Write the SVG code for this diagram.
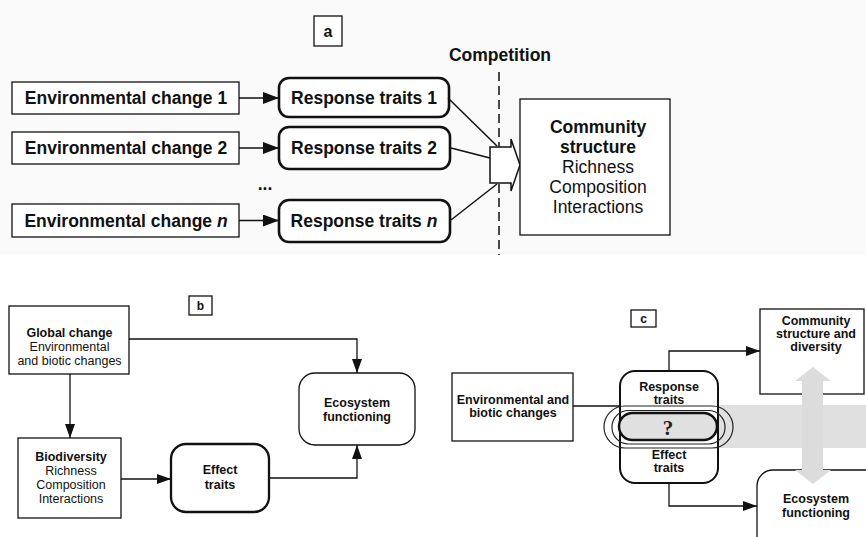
<svg xmlns="http://www.w3.org/2000/svg" width="866" height="537" viewBox="0 0 866 537">
<defs>
<style>
.t{font-family:"Liberation Sans",Arial,sans-serif;fill:#111}
.b{font-weight:bold}
.a17{font-size:17.5px}
.s12{font-size:12.5px}
.box{fill:#fff;stroke:#111;stroke-width:1.3}
.rb{fill:#fff;stroke:#111;stroke-width:2.6}
.ln{fill:none;stroke:#111;stroke-width:1.3}
.lnA{fill:none;stroke:#111;stroke-width:1.5}
.ring{fill:none;stroke:#222;stroke-width:1.2}
</style>
<marker id="ha" markerUnits="userSpaceOnUse" markerWidth="16" markerHeight="12" refX="16" refY="6" orient="auto"><path d="M0,0 L16,6 L0,12 z" fill="#111"/></marker>
<marker id="hb" markerUnits="userSpaceOnUse" markerWidth="14" markerHeight="10" refX="14" refY="5" orient="auto"><path d="M0,0 L14,5 L0,10 z" fill="#111"/></marker>
</defs>
<rect width="866" height="537" fill="#fff"/>
<rect width="866" height="254" fill="#fafafa"/>

<!-- Panel a -->
<g id="label-a"><rect x="314" y="16" width="28" height="30" class="box" stroke-width="1.5"/><text x="328" y="37" text-anchor="middle" class="t b" font-size="16">a</text></g>
<g id="competition"><text x="500" y="61" text-anchor="middle" class="t b a17">Competition</text><line x1="499" y1="72" x2="499" y2="255" stroke="#111" stroke-width="1.5" stroke-dasharray="9,5"/></g>

<g id="env1"><rect x="12" y="82" width="227" height="32" class="box" stroke-width="1.5"/><text x="126" y="104" text-anchor="middle" class="t b a17">Environmental change 1</text></g>
<g id="env2"><rect x="12" y="132" width="227" height="32" class="box" stroke-width="1.5"/><text x="126" y="154" text-anchor="middle" class="t b a17">Environmental change 2</text></g>
<g id="envn"><rect x="12" y="204" width="227" height="33" class="box" stroke-width="1.5"/><text x="126" y="227" text-anchor="middle" class="t b a17">Environmental change <tspan font-style="italic">n</tspan></text></g>

<g id="resp1"><rect x="279" y="78" width="170" height="39" rx="10" class="rb"/><text x="364" y="104" text-anchor="middle" class="t b a17">Response traits 1</text></g>
<g id="resp2"><rect x="279" y="127" width="171" height="42" rx="10" class="rb"/><text x="364" y="154" text-anchor="middle" class="t b a17">Response traits 2</text></g>
<g id="respn"><rect x="279" y="200" width="171" height="42" rx="10" class="rb"/><text x="364" y="227" text-anchor="middle" class="t b a17">Response traits <tspan font-style="italic">n</tspan></text></g>
<g id="dots"><text x="265" y="190" text-anchor="middle" class="t b a17">...</text></g>

<g id="funnel"><path d="M490,147 L511,147 L511,139 L520,165 L511,191 L511,183 L490,183 Z" fill="#fff" stroke="#111" stroke-width="1.5" stroke-linejoin="miter"/></g>

<g id="community-a"><rect x="520" y="99" width="150" height="136" class="box" stroke-width="1.5"/>
<text x="598" y="133" text-anchor="middle" class="t b a17">Community</text>
<text x="598" y="153" text-anchor="middle" class="t b a17">structure</text>
<text x="598" y="173" text-anchor="middle" class="t a17">Richness</text>
<text x="598" y="193" text-anchor="middle" class="t a17">Composition</text>
<text x="598" y="213" text-anchor="middle" class="t a17">Interactions</text></g>

<!-- Panel b -->
<g id="label-b"><rect x="189" y="296" width="23" height="19" class="box"/><text x="200.5" y="310" text-anchor="middle" class="t b" font-size="12">b</text></g>
<g id="global"><rect x="9" y="306" width="120" height="68" class="box"/>
<text x="69.5" y="337" text-anchor="middle" class="t b s12">Global change</text>
<text x="69.5" y="351" text-anchor="middle" class="t s12">Environmental</text>
<text x="69.5" y="365" text-anchor="middle" class="t s12">and biotic changes</text></g>
<g id="biodiv"><rect x="18" y="438" width="103" height="80" class="box"/>
<text x="71" y="461" text-anchor="middle" class="t b s12">Biodiversity</text>
<text x="71" y="475" text-anchor="middle" class="t s12">Richness</text>
<text x="71" y="489" text-anchor="middle" class="t s12">Composition</text>
<text x="71" y="503" text-anchor="middle" class="t s12">Interactions</text></g>
<g id="effect-b"><rect x="171" y="444" width="98" height="68" rx="15" fill="#fff" stroke="#111" stroke-width="2.3"/>
<text x="220" y="474" text-anchor="middle" class="t b s12">Effect</text>
<text x="220" y="489" text-anchor="middle" class="t b s12">traits</text></g>
<g id="eco-b"><rect x="299" y="373" width="116" height="72" rx="16" class="box"/>
<text x="357" y="407" text-anchor="middle" class="t b s12">Ecosystem</text>
<text x="357" y="421" text-anchor="middle" class="t b s12">functioning</text></g>

<!-- Panel c -->
<g id="label-c"><rect x="631" y="310" width="25" height="17" class="box"/><text x="643.5" y="323" text-anchor="middle" class="t b" font-size="12">c</text></g>
<g id="community-c"><rect x="760" y="309" width="104" height="85" class="box"/>
<text x="816" y="325" text-anchor="middle" class="t b s12">Community</text>
<text x="816" y="338" text-anchor="middle" class="t b s12">structure and</text>
<text x="816" y="351" text-anchor="middle" class="t b s12">diversity</text></g>
<g id="eco-c"><rect x="757" y="470" width="140" height="90" rx="16" class="box"/>
<text x="816" y="503" text-anchor="middle" class="t b s12">Ecosystem</text>
<text x="816" y="517" text-anchor="middle" class="t b s12">functioning</text></g>
<g id="env-c"><rect x="452" y="373" width="121" height="68" class="box"/>
<text x="513" y="404" text-anchor="middle" class="t b s12">Environmental and</text>
<text x="513" y="417" text-anchor="middle" class="t b s12">biotic changes</text></g>

<g id="band"><rect x="718" y="405" width="148" height="43" fill="#e0e0e0"/></g>
<g id="traits-c"><rect x="620" y="371" width="98" height="112" rx="15" fill="none" stroke="#111" stroke-width="2"/>
<text x="669" y="391" text-anchor="middle" class="t b s12">Response</text>
<text x="669" y="404" text-anchor="middle" class="t b s12">traits</text>
<text x="669" y="459" text-anchor="middle" class="t b s12">Effect</text>
<text x="669" y="472" text-anchor="middle" class="t b s12">traits</text></g>
<g id="rings"><rect x="604" y="406" width="129" height="42" rx="21" class="ring"/>
<rect x="612" y="410.5" width="113" height="33.5" rx="16.5" class="ring"/></g>
<g id="question"><rect x="619" y="413" width="98" height="27" rx="13.5" fill="#e0e0e0" stroke="#111" stroke-width="2.5"/>
<text x="668" y="435" text-anchor="middle" font-family="Liberation Serif,serif" font-weight="bold" font-size="21" fill="#222">?</text></g>
<g id="gray-arrow"><path d="M813,367 L831,381 L823,381 L823,470 L831,470 L813,484 L795,470 L802,470 L802,381 L795,381 Z" fill="#dcdcdc"/></g>

<g id="connectors">
<line x1="239" y1="98" x2="279" y2="98" class="lnA" marker-end="url(#ha)"/>
<line x1="239" y1="148" x2="279" y2="148" class="lnA" marker-end="url(#ha)"/>
<line x1="239" y1="220.5" x2="279" y2="220.5" class="lnA" marker-end="url(#ha)"/>
<line x1="448" y1="98" x2="497" y2="146" class="lnA"/>
<line x1="451" y1="148" x2="490" y2="158" class="lnA"/>
<line x1="451" y1="220" x2="497" y2="184" class="lnA"/>
<polyline points="129,339 357,339 357,373" class="ln" marker-end="url(#hb)"/>
<line x1="70" y1="374" x2="70" y2="438" class="ln" marker-end="url(#hb)"/>
<line x1="121" y1="479" x2="171" y2="479" class="ln" marker-end="url(#hb)"/>
<polyline points="269,478 357,478 357,445" class="ln" marker-end="url(#hb)"/>
<line x1="573" y1="406" x2="620" y2="406" class="ln"/>
<polyline points="669,371 669,351 760,351" class="ln" marker-end="url(#hb)"/>
<polyline points="669,483 669,506 757,506" class="ln" marker-end="url(#hb)"/>
</g>
</svg>
